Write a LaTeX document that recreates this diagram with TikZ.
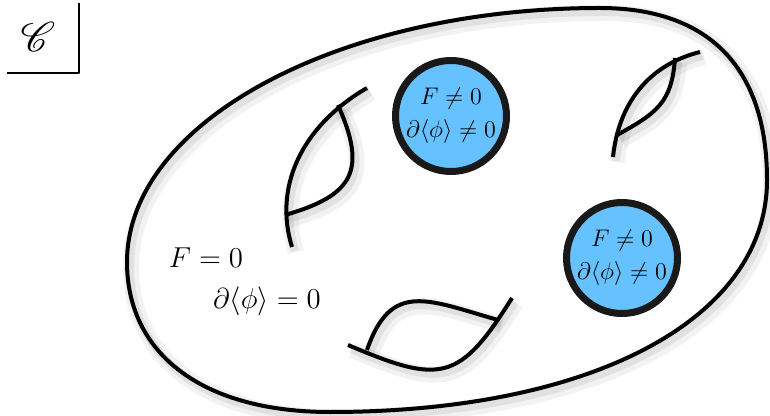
\documentclass[tikz,border=0pt]{standalone}
\usepackage{mathrsfs}
\definecolor{phaseblue}{RGB}{102,194,255}
\begin{document}
\begin{tikzpicture}[x=0.5pt, y=-0.5pt, line join=round,
  fold/.style={line width=2pt,
    preaction={draw=black, opacity=0.05, line width=8pt, transform canvas={shift={(2pt,-2.5pt)}}},
    preaction={draw=black, opacity=0.07, line width=4pt, transform canvas={shift={(1.5pt,-2pt)}}}},
  phase/.style={circle, draw=black!90, line width=3.5pt, fill=phaseblue,
    minimum size=55.5pt, inner sep=0pt, align=center,
    font=\fontsize{12.5}{16.5}\selectfont},
  eqtext/.style={font=\fontsize{13.5}{16}\selectfont}]
  \useasboundingbox (0,0) rectangle (770,416);

  % Category label in the corner
  \node (cat) at (38,37) {\fontsize{21}{21}\selectfont$\mathscr{C}$};
  \draw[line width=1pt] (7,73) -- (79,73) -- (79,3);

  % The moduli space
  \draw[fold] (600,8) .. controls (339,8) and (127,122) .. (127,262)
    .. controls (127,355) and (204,412) .. (330,412)
    .. controls (592,412) and (767,319) .. (767,180)
    .. controls (767,68) and (709,8) .. (600,8) -- cycle;

  % Folds
  \draw[fold] (367,88) to[out=210, in=107] (292,247);
  \draw[fold] (338,105) to[out=294, in=16, looseness=1.5] (285,215);
  \draw[fold] (700,52) to[out=194, in=84] (613,157);
  \draw[fold] (675,58) to[out=266, in=29, looseness=1.2] (617,135);
  \draw[fold] (348,345) to[out=337, in=238, looseness=1.5] (512,298);
  \draw[fold] (498,320) to[out=164, in=71, looseness=1.4] (367,350);

  % Broken regions
  \node[phase] (broken1) at (451,116) {$F\neq0$\\$\partial\langle\phi\rangle\neq0$};
  \node[phase] (broken2) at (622,258) {$F\neq0$\\$\partial\langle\phi\rangle\neq0$};

  % Unbroken region
  \node[eqtext] (fzero) at (206,258) {$F=0$};
  \node[eqtext] (dzero) at (267,301) {$\partial\langle\phi\rangle=0$};
\end{tikzpicture}
\end{document}
